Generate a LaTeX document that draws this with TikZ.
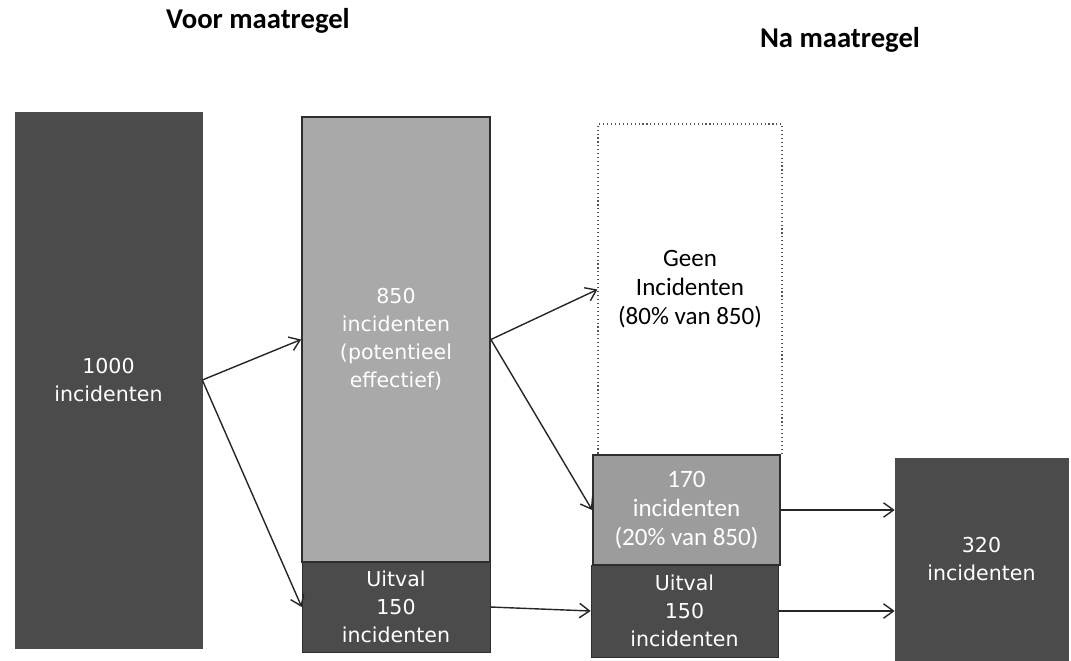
\documentclass[tikz,border=0pt]{standalone}
\usepackage{fontspec}
\usepackage{xcolor}
\usepackage{tikz}
\usetikzlibrary{arrows.meta,calc}
\newfontfamily\carlito{Carlito}
\newfontfamily\dejavu{DejaVu Sans}
\definecolor{dark}{HTML}{4B4B4B}
\definecolor{light}{HTML}{A9A9A9}
\definecolor{mid}{HTML}{9C9C9C}
\definecolor{edge}{HTML}{2E2E2E}
\definecolor{dots}{HTML}{555555}
\tikzset{
  boxD/.style={rectangle, fill=dark, draw=dark, inner sep=0pt, text=white, align=center,
    font=\dejavu\fontsize{14.6pt}{19.9pt}\selectfont},
  boxL/.style={boxD, fill=light, draw=edge, line width=1.2pt},
  boxM/.style={boxD, fill=mid, draw=edge, line width=1.2pt,
    font=\carlito\fontsize{17.8pt}{20.6pt}\selectfont},
  boxE/.style={rectangle, fill=white, draw=dots, dotted, line width=0.8pt, inner sep=0pt,
    text=black, align=center, font=\carlito\fontsize{17.8pt}{20.6pt}\selectfont},
  ttl/.style={anchor=base, font=\carlito\bfseries\fontsize{20.4pt}{24pt}\selectfont},
  arr/.style={-{Straight Barb[length=2.5mm, width=3.6mm]}, line width=1pt, draw=black!85}
}
\begin{document}
\begin{tikzpicture}[x=0.025cm, y=-0.025cm]
  \useasboundingbox (0,0) rectangle (1071,660);

  % titles
  \node[ttl] (voor) at (258,28) {Voor maatregel};
  \node[ttl] (na) at (840,47) {Na maatregel};

  % voor maatregel
  \node[boxD, minimum width=4.675cm, minimum height=13.4cm] (A) at (108.5,380)
    {1000\\incidenten};
  \node[boxL, minimum width=4.7cm, minimum height=11.125cm] (B) at (396,339.5)
    {850\\incidenten\\(potentieel\\effectief)};
  \node[boxD, draw=edge, minimum width=4.7cm, minimum height=2.25cm] (UB) at (396,607)
    {Uitval\\150\\incidenten};

  % na maatregel
  \node[boxE, minimum width=4.6cm, minimum height=8.275cm] (C) at (690,289.5)
    {Geen\\Incidenten\\(80\% van 850)};
  \node[boxM, minimum width=4.675cm, minimum height=2.75cm] (K) at (686.5,510)
    {170\\incidenten\\(20\% van 850)};
  \node[boxD, draw=edge, minimum width=4.675cm, minimum height=2.3cm] (UC) at (684.5,611)
    {Uitval\\150\\incidenten};
  \node[boxD, minimum width=4.325cm, minimum height=5.05cm] (T) at (981.5,559)
    {320\\incidenten};

  % arrows
  \draw[arr] (A.east) -- (B.west);
  \draw[arr] (A.east) -- (UB.west);
  \draw[arr] (B.east) -- (C.west);
  \draw[arr] (B.east) -- (K.west);
  \draw[arr] (UB.east) -- (UC.west);
  \draw[arr] (K.east) -- (K.east -| T.west);
  \draw[arr] (UC.east) -- (UC.east -| T.west);
\end{tikzpicture}
\end{document}
